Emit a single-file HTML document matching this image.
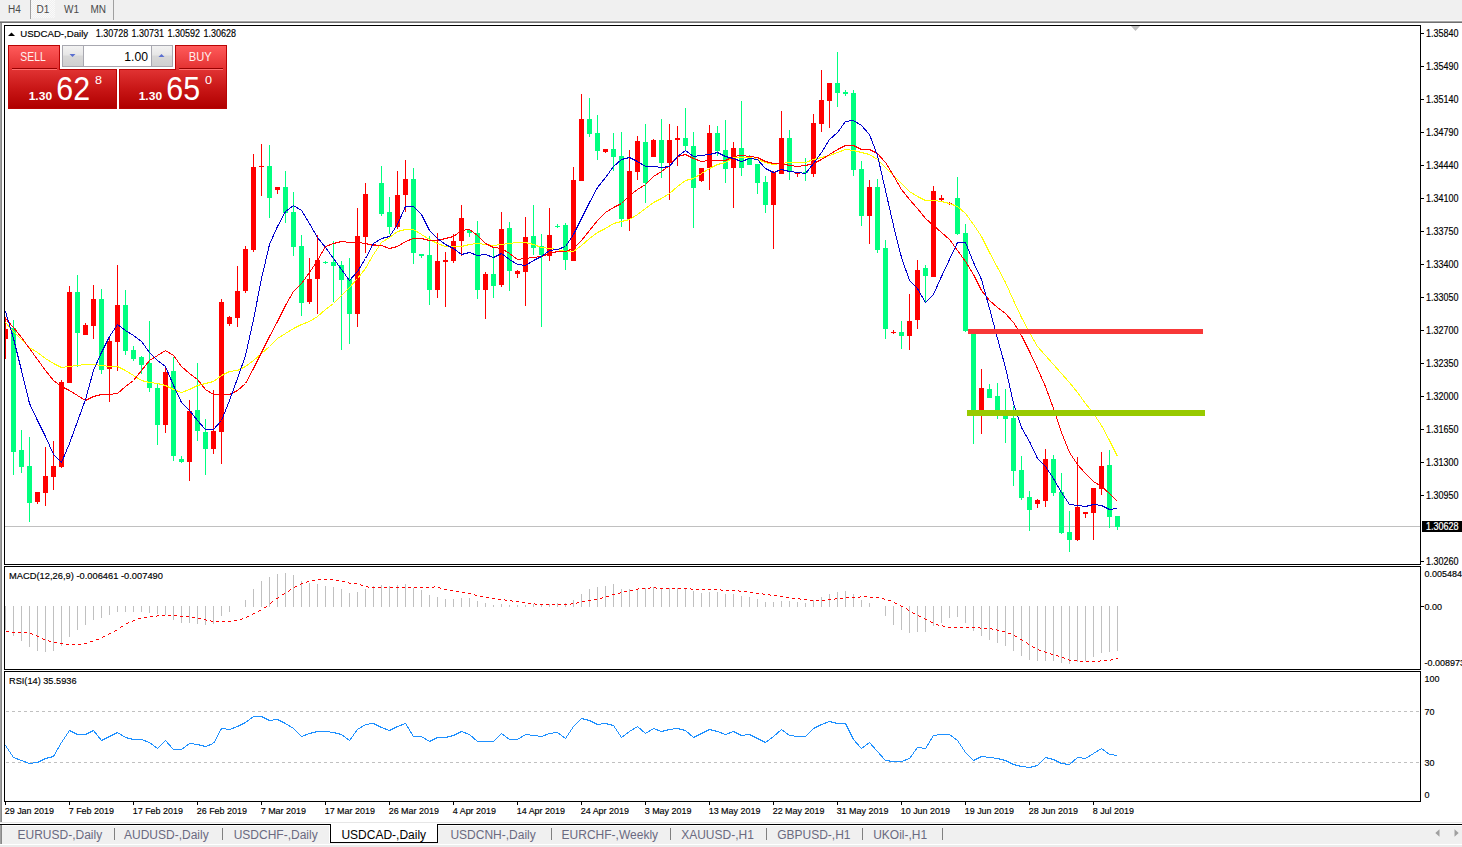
<!DOCTYPE html><html><head><meta charset="utf-8"><title>USDCAD-,Daily</title><style>
html,body{margin:0;padding:0;}body{width:1462px;height:847px;overflow:hidden;background:#f0f0f0;position:relative;font-family:"Liberation Sans",sans-serif;}
svg{position:absolute;left:0;top:0;}text{font-family:"Liberation Sans",sans-serif;}.b{stroke:#000;stroke-width:0.16px;}
</style></head><body>
<svg width="1462" height="847" viewBox="0 0 1462 847">
<defs><linearGradient id="rg" x1="0" y1="0" x2="0" y2="1"><stop offset="0" stop-color="#ff5a5a"/><stop offset="0.35" stop-color="#e52a2a"/><stop offset="1" stop-color="#b00000"/></linearGradient><linearGradient id="rg2" x1="0" y1="0" x2="0" y2="1"><stop offset="0" stop-color="#d82020"/><stop offset="1" stop-color="#b00000"/></linearGradient><linearGradient id="gb" x1="0" y1="0" x2="0" y2="1"><stop offset="0" stop-color="#f2f2f2"/><stop offset="0.45" stop-color="#e6e6e6"/><stop offset="0.5" stop-color="#d8d8d8"/><stop offset="1" stop-color="#d0d0d0"/></linearGradient><linearGradient id="rtop" x1="0" y1="0" x2="0" y2="1"><stop offset="0" stop-color="#ff5a5a"/><stop offset="1" stop-color="#e23030"/></linearGradient><linearGradient id="rbot" x1="0" y1="0" x2="0" y2="1"><stop offset="0" stop-color="#e03232"/><stop offset="0.5" stop-color="#c81616"/><stop offset="1" stop-color="#b00000"/></linearGradient><pattern id="dots" width="2" height="2" patternUnits="userSpaceOnUse"><rect width="2" height="2" fill="#f0f0f0"/><rect width="1" height="1" fill="#fafafa"/><rect x="1" y="1" width="1" height="1" fill="#fafafa"/></pattern></defs>
<g shape-rendering="crispEdges">
<rect x="0" y="0" width="1462" height="21" fill="#f0f0f0"/>
<rect x="31" y="0" width="24" height="18" fill="url(#dots)"/>
<rect x="30" y="0" width="1" height="19" fill="#a0a0a0"/>
<rect x="113" y="0" width="1" height="21" fill="#a0a0a0"/>
<rect x="0" y="20" width="1462" height="1" fill="#f8f8f8"/>
<rect x="0" y="21" width="1462" height="1" fill="#a4a4a4"/>
<rect x="0" y="22" width="1462" height="1" fill="#707070"/>
</g>
<text x="8" y="13" font-size="10" fill="#4a4a4a">H4</text>
<text x="36.5" y="13" font-size="10" fill="#4a4a4a">D1</text>
<text x="64" y="13" font-size="10" fill="#4a4a4a">W1</text>
<text x="90.5" y="13" font-size="10" fill="#4a4a4a">MN</text>
<g shape-rendering="crispEdges">
<rect x="0" y="23" width="1462" height="799" fill="#ffffff"/>
<rect x="0" y="23" width="2" height="799" fill="#a0a0a0"/>
<rect x="1" y="23" width="1" height="799" fill="#888888"/>
<rect x="4" y="25" width="1417" height="1" fill="#000"/>
<rect x="4" y="564" width="1417" height="1" fill="#000"/>
<rect x="4" y="25" width="1" height="540" fill="#000"/>
<rect x="1420" y="25" width="1" height="540" fill="#000"/>
<rect x="4" y="566" width="1417" height="1" fill="#000"/>
<rect x="4" y="669" width="1417" height="1" fill="#000"/>
<rect x="4" y="566" width="1" height="104" fill="#000"/>
<rect x="1420" y="566" width="1" height="104" fill="#000"/>
<rect x="4" y="671" width="1417" height="1" fill="#000"/>
<rect x="4" y="801" width="1417" height="1" fill="#000"/>
<rect x="4" y="671" width="1" height="131" fill="#000"/>
<rect x="1420" y="671" width="1" height="131" fill="#000"/>
</g>
<polygon points="1131,26 1140,26 1135.5,31" fill="#c0c0c0"/>
<g shape-rendering="crispEdges">
<rect x="1421" y="33" width="3" height="1" fill="#000"/>
<rect x="1421" y="66" width="3" height="1" fill="#000"/>
<rect x="1421" y="99" width="3" height="1" fill="#000"/>
<rect x="1421" y="132" width="3" height="1" fill="#000"/>
<rect x="1421" y="165" width="3" height="1" fill="#000"/>
<rect x="1421" y="198" width="3" height="1" fill="#000"/>
<rect x="1421" y="231" width="3" height="1" fill="#000"/>
<rect x="1421" y="264" width="3" height="1" fill="#000"/>
<rect x="1421" y="297" width="3" height="1" fill="#000"/>
<rect x="1421" y="330" width="3" height="1" fill="#000"/>
<rect x="1421" y="363" width="3" height="1" fill="#000"/>
<rect x="1421" y="396" width="3" height="1" fill="#000"/>
<rect x="1421" y="429" width="3" height="1" fill="#000"/>
<rect x="1421" y="462" width="3" height="1" fill="#000"/>
<rect x="1421" y="495" width="3" height="1" fill="#000"/>
<rect x="1421" y="561" width="3" height="1" fill="#000"/>
</g>
<text x="1426" y="37" class="b" font-size="10" fill="#000" textLength="32.5" lengthAdjust="spacingAndGlyphs">1.35840</text>
<text x="1426" y="70" class="b" font-size="10" fill="#000" textLength="32.5" lengthAdjust="spacingAndGlyphs">1.35490</text>
<text x="1426" y="103" class="b" font-size="10" fill="#000" textLength="32.5" lengthAdjust="spacingAndGlyphs">1.35140</text>
<text x="1426" y="136" class="b" font-size="10" fill="#000" textLength="32.5" lengthAdjust="spacingAndGlyphs">1.34790</text>
<text x="1426" y="169" class="b" font-size="10" fill="#000" textLength="32.5" lengthAdjust="spacingAndGlyphs">1.34440</text>
<text x="1426" y="202" class="b" font-size="10" fill="#000" textLength="32.5" lengthAdjust="spacingAndGlyphs">1.34100</text>
<text x="1426" y="235" class="b" font-size="10" fill="#000" textLength="32.5" lengthAdjust="spacingAndGlyphs">1.33750</text>
<text x="1426" y="268" class="b" font-size="10" fill="#000" textLength="32.5" lengthAdjust="spacingAndGlyphs">1.33400</text>
<text x="1426" y="301" class="b" font-size="10" fill="#000" textLength="32.5" lengthAdjust="spacingAndGlyphs">1.33050</text>
<text x="1426" y="334" class="b" font-size="10" fill="#000" textLength="32.5" lengthAdjust="spacingAndGlyphs">1.32700</text>
<text x="1426" y="367" class="b" font-size="10" fill="#000" textLength="32.5" lengthAdjust="spacingAndGlyphs">1.32350</text>
<text x="1426" y="400" class="b" font-size="10" fill="#000" textLength="32.5" lengthAdjust="spacingAndGlyphs">1.32000</text>
<text x="1426" y="433" class="b" font-size="10" fill="#000" textLength="32.5" lengthAdjust="spacingAndGlyphs">1.31650</text>
<text x="1426" y="466" class="b" font-size="10" fill="#000" textLength="32.5" lengthAdjust="spacingAndGlyphs">1.31300</text>
<text x="1426" y="499" class="b" font-size="10" fill="#000" textLength="32.5" lengthAdjust="spacingAndGlyphs">1.30950</text>
<text x="1426" y="565" class="b" font-size="10" fill="#000" textLength="32.5" lengthAdjust="spacingAndGlyphs">1.30260</text>
<rect x="5" y="526" width="1415" height="1" fill="#c0c0c0" shape-rendering="crispEdges"/>
<rect x="1422" y="521" width="40" height="11" fill="#000" shape-rendering="crispEdges"/>
<text x="1426" y="530" font-size="10" fill="#fff" style="stroke:#fff;stroke-width:0.22px" textLength="32.5" lengthAdjust="spacingAndGlyphs">1.30628</text>
<g shape-rendering="crispEdges">
<rect x="5" y="802" width="1" height="3" fill="#000"/>
<rect x="69" y="802" width="1" height="3" fill="#000"/>
<rect x="133" y="802" width="1" height="3" fill="#000"/>
<rect x="197" y="802" width="1" height="3" fill="#000"/>
<rect x="261" y="802" width="1" height="3" fill="#000"/>
<rect x="325" y="802" width="1" height="3" fill="#000"/>
<rect x="389" y="802" width="1" height="3" fill="#000"/>
<rect x="453" y="802" width="1" height="3" fill="#000"/>
<rect x="517" y="802" width="1" height="3" fill="#000"/>
<rect x="581" y="802" width="1" height="3" fill="#000"/>
<rect x="645" y="802" width="1" height="3" fill="#000"/>
<rect x="709" y="802" width="1" height="3" fill="#000"/>
<rect x="773" y="802" width="1" height="3" fill="#000"/>
<rect x="837" y="802" width="1" height="3" fill="#000"/>
<rect x="901" y="802" width="1" height="3" fill="#000"/>
<rect x="965" y="802" width="1" height="3" fill="#000"/>
<rect x="1029" y="802" width="1" height="3" fill="#000"/>
<rect x="1093" y="802" width="1" height="3" fill="#000"/>
</g>
<text x="4.7" y="814" class="b" font-size="9.8" fill="#000" textLength="49.3" lengthAdjust="spacingAndGlyphs">29 Jan 2019</text>
<text x="68.7" y="814" class="b" font-size="9.8" fill="#000" textLength="45.3" lengthAdjust="spacingAndGlyphs">7 Feb 2019</text>
<text x="132.7" y="814" class="b" font-size="9.8" fill="#000" textLength="50.3" lengthAdjust="spacingAndGlyphs">17 Feb 2019</text>
<text x="196.7" y="814" class="b" font-size="9.8" fill="#000" textLength="50.3" lengthAdjust="spacingAndGlyphs">26 Feb 2019</text>
<text x="260.7" y="814" class="b" font-size="9.8" fill="#000" textLength="45.3" lengthAdjust="spacingAndGlyphs">7 Mar 2019</text>
<text x="324.7" y="814" class="b" font-size="9.8" fill="#000" textLength="50.2" lengthAdjust="spacingAndGlyphs">17 Mar 2019</text>
<text x="388.7" y="814" class="b" font-size="9.8" fill="#000" textLength="50.2" lengthAdjust="spacingAndGlyphs">26 Mar 2019</text>
<text x="452.7" y="814" class="b" font-size="9.8" fill="#000" textLength="43.3" lengthAdjust="spacingAndGlyphs">4 Apr 2019</text>
<text x="516.7" y="814" class="b" font-size="9.8" fill="#000" textLength="48.3" lengthAdjust="spacingAndGlyphs">14 Apr 2019</text>
<text x="580.7" y="814" class="b" font-size="9.8" fill="#000" textLength="48.3" lengthAdjust="spacingAndGlyphs">24 Apr 2019</text>
<text x="644.7" y="814" class="b" font-size="9.8" fill="#000" textLength="46.8" lengthAdjust="spacingAndGlyphs">3 May 2019</text>
<text x="708.7" y="814" class="b" font-size="9.8" fill="#000" textLength="51.7" lengthAdjust="spacingAndGlyphs">13 May 2019</text>
<text x="772.7" y="814" class="b" font-size="9.8" fill="#000" textLength="51.7" lengthAdjust="spacingAndGlyphs">22 May 2019</text>
<text x="836.7" y="814" class="b" font-size="9.8" fill="#000" textLength="51.7" lengthAdjust="spacingAndGlyphs">31 May 2019</text>
<text x="900.7" y="814" class="b" font-size="9.8" fill="#000" textLength="49.3" lengthAdjust="spacingAndGlyphs">10 Jun 2019</text>
<text x="964.7" y="814" class="b" font-size="9.8" fill="#000" textLength="49.3" lengthAdjust="spacingAndGlyphs">19 Jun 2019</text>
<text x="1028.7" y="814" class="b" font-size="9.8" fill="#000" textLength="49.3" lengthAdjust="spacingAndGlyphs">28 Jun 2019</text>
<text x="1092.7" y="814" class="b" font-size="9.8" fill="#000" textLength="41.3" lengthAdjust="spacingAndGlyphs">8 Jul 2019</text>
<clipPath id="mc"><rect x="5" y="26" width="1415" height="538"/></clipPath>
<g clip-path="url(#mc)">
<g shape-rendering="crispEdges">
<rect x="5" y="317" width="1" height="42" fill="#ff0000"/>
<rect x="3" y="329" width="5" height="10" fill="#ff0000"/>
<rect x="13" y="320" width="1" height="155" fill="#00ff7f"/>
<rect x="11" y="328" width="5" height="124" fill="#00ff7f"/>
<rect x="21" y="430" width="1" height="43" fill="#00ff7f"/>
<rect x="19" y="450" width="5" height="17" fill="#00ff7f"/>
<rect x="29" y="437" width="1" height="85" fill="#00ff7f"/>
<rect x="27" y="466" width="5" height="37" fill="#00ff7f"/>
<rect x="37" y="492" width="1" height="12" fill="#ff0000"/>
<rect x="35" y="492" width="5" height="10" fill="#ff0000"/>
<rect x="45" y="447" width="1" height="59" fill="#ff0000"/>
<rect x="43" y="476" width="5" height="17" fill="#ff0000"/>
<rect x="53" y="441" width="1" height="49" fill="#ff0000"/>
<rect x="51" y="466" width="5" height="11" fill="#ff0000"/>
<rect x="61" y="380" width="1" height="88" fill="#ff0000"/>
<rect x="59" y="382" width="5" height="85" fill="#ff0000"/>
<rect x="69" y="286" width="1" height="97" fill="#ff0000"/>
<rect x="67" y="292" width="5" height="91" fill="#ff0000"/>
<rect x="77" y="275" width="1" height="92" fill="#00ff7f"/>
<rect x="75" y="292" width="5" height="41" fill="#00ff7f"/>
<rect x="85" y="323" width="1" height="12" fill="#ff0000"/>
<rect x="83" y="325" width="5" height="10" fill="#ff0000"/>
<rect x="93" y="285" width="1" height="54" fill="#ff0000"/>
<rect x="91" y="299" width="5" height="27" fill="#ff0000"/>
<rect x="101" y="289" width="1" height="85" fill="#00ff7f"/>
<rect x="99" y="299" width="5" height="71" fill="#00ff7f"/>
<rect x="109" y="338" width="1" height="64" fill="#ff0000"/>
<rect x="107" y="341" width="5" height="28" fill="#ff0000"/>
<rect x="117" y="265" width="1" height="106" fill="#ff0000"/>
<rect x="115" y="305" width="5" height="37" fill="#ff0000"/>
<rect x="125" y="290" width="1" height="65" fill="#00ff7f"/>
<rect x="123" y="305" width="5" height="46" fill="#00ff7f"/>
<rect x="133" y="346" width="1" height="15" fill="#00ff7f"/>
<rect x="131" y="350" width="5" height="9" fill="#00ff7f"/>
<rect x="141" y="356" width="1" height="18" fill="#00ff7f"/>
<rect x="139" y="357" width="5" height="8" fill="#00ff7f"/>
<rect x="149" y="321" width="1" height="71" fill="#00ff7f"/>
<rect x="147" y="363" width="5" height="25" fill="#00ff7f"/>
<rect x="157" y="384" width="1" height="61" fill="#00ff7f"/>
<rect x="155" y="388" width="5" height="37" fill="#00ff7f"/>
<rect x="165" y="366" width="1" height="67" fill="#ff0000"/>
<rect x="163" y="372" width="5" height="53" fill="#ff0000"/>
<rect x="173" y="357" width="1" height="104" fill="#00ff7f"/>
<rect x="171" y="371" width="5" height="85" fill="#00ff7f"/>
<rect x="181" y="456" width="1" height="7" fill="#00ff7f"/>
<rect x="179" y="459" width="5" height="3" fill="#00ff7f"/>
<rect x="189" y="400" width="1" height="81" fill="#ff0000"/>
<rect x="187" y="411" width="5" height="51" fill="#ff0000"/>
<rect x="197" y="363" width="1" height="78" fill="#00ff7f"/>
<rect x="195" y="410" width="5" height="21" fill="#00ff7f"/>
<rect x="205" y="419" width="1" height="56" fill="#00ff7f"/>
<rect x="203" y="432" width="5" height="17" fill="#00ff7f"/>
<rect x="213" y="390" width="1" height="64" fill="#ff0000"/>
<rect x="211" y="431" width="5" height="18" fill="#ff0000"/>
<rect x="221" y="299" width="1" height="165" fill="#ff0000"/>
<rect x="219" y="302" width="5" height="130" fill="#ff0000"/>
<rect x="229" y="316" width="1" height="10" fill="#ff0000"/>
<rect x="227" y="317" width="5" height="7" fill="#ff0000"/>
<rect x="237" y="266" width="1" height="61" fill="#ff0000"/>
<rect x="235" y="291" width="5" height="27" fill="#ff0000"/>
<rect x="245" y="246" width="1" height="47" fill="#ff0000"/>
<rect x="243" y="249" width="5" height="42" fill="#ff0000"/>
<rect x="253" y="154" width="1" height="98" fill="#ff0000"/>
<rect x="251" y="167" width="5" height="83" fill="#ff0000"/>
<rect x="261" y="144" width="1" height="52" fill="#ff0000"/>
<rect x="259" y="166" width="5" height="1" fill="#ff0000"/>
<rect x="269" y="145" width="1" height="73" fill="#00ff7f"/>
<rect x="267" y="166" width="5" height="32" fill="#00ff7f"/>
<rect x="277" y="187" width="1" height="7" fill="#ff0000"/>
<rect x="275" y="187" width="5" height="3" fill="#ff0000"/>
<rect x="285" y="171" width="1" height="52" fill="#00ff7f"/>
<rect x="283" y="187" width="5" height="26" fill="#00ff7f"/>
<rect x="293" y="192" width="1" height="64" fill="#00ff7f"/>
<rect x="291" y="212" width="5" height="35" fill="#00ff7f"/>
<rect x="301" y="235" width="1" height="81" fill="#00ff7f"/>
<rect x="299" y="246" width="5" height="57" fill="#00ff7f"/>
<rect x="309" y="258" width="1" height="46" fill="#ff0000"/>
<rect x="307" y="279" width="5" height="23" fill="#ff0000"/>
<rect x="317" y="235" width="1" height="79" fill="#ff0000"/>
<rect x="315" y="260" width="5" height="19" fill="#ff0000"/>
<rect x="325" y="261" width="1" height="3" fill="#00ff7f"/>
<rect x="323" y="262" width="5" height="1" fill="#00ff7f"/>
<rect x="333" y="241" width="1" height="61" fill="#00ff7f"/>
<rect x="331" y="262" width="5" height="4" fill="#00ff7f"/>
<rect x="341" y="261" width="1" height="89" fill="#00ff7f"/>
<rect x="339" y="265" width="5" height="15" fill="#00ff7f"/>
<rect x="349" y="258" width="1" height="86" fill="#00ff7f"/>
<rect x="347" y="279" width="5" height="35" fill="#00ff7f"/>
<rect x="357" y="208" width="1" height="119" fill="#ff0000"/>
<rect x="355" y="236" width="5" height="78" fill="#ff0000"/>
<rect x="365" y="183" width="1" height="70" fill="#ff0000"/>
<rect x="363" y="194" width="5" height="43" fill="#ff0000"/>
<rect x="373" y="243" width="1" height="3" fill="#ff0000"/>
<rect x="371" y="244" width="5" height="1" fill="#ff0000"/>
<rect x="381" y="166" width="1" height="50" fill="#00ff7f"/>
<rect x="379" y="183" width="5" height="31" fill="#00ff7f"/>
<rect x="389" y="197" width="1" height="37" fill="#00ff7f"/>
<rect x="387" y="212" width="5" height="15" fill="#00ff7f"/>
<rect x="397" y="171" width="1" height="58" fill="#ff0000"/>
<rect x="395" y="195" width="5" height="32" fill="#ff0000"/>
<rect x="405" y="160" width="1" height="52" fill="#ff0000"/>
<rect x="403" y="179" width="5" height="16" fill="#ff0000"/>
<rect x="413" y="168" width="1" height="96" fill="#00ff7f"/>
<rect x="411" y="179" width="5" height="74" fill="#00ff7f"/>
<rect x="421" y="254" width="1" height="4" fill="#00ff7f"/>
<rect x="419" y="254" width="5" height="2" fill="#00ff7f"/>
<rect x="429" y="236" width="1" height="69" fill="#00ff7f"/>
<rect x="427" y="255" width="5" height="35" fill="#00ff7f"/>
<rect x="437" y="233" width="1" height="65" fill="#ff0000"/>
<rect x="435" y="261" width="5" height="29" fill="#ff0000"/>
<rect x="445" y="252" width="1" height="55" fill="#ff0000"/>
<rect x="443" y="260" width="5" height="2" fill="#ff0000"/>
<rect x="453" y="234" width="1" height="29" fill="#ff0000"/>
<rect x="451" y="241" width="5" height="20" fill="#ff0000"/>
<rect x="461" y="205" width="1" height="51" fill="#ff0000"/>
<rect x="459" y="218" width="5" height="23" fill="#ff0000"/>
<rect x="469" y="230" width="1" height="7" fill="#00ff7f"/>
<rect x="467" y="230" width="5" height="3" fill="#00ff7f"/>
<rect x="477" y="221" width="1" height="78" fill="#00ff7f"/>
<rect x="475" y="233" width="5" height="57" fill="#00ff7f"/>
<rect x="485" y="272" width="1" height="47" fill="#ff0000"/>
<rect x="483" y="274" width="5" height="16" fill="#ff0000"/>
<rect x="493" y="248" width="1" height="50" fill="#00ff7f"/>
<rect x="491" y="274" width="5" height="12" fill="#00ff7f"/>
<rect x="501" y="212" width="1" height="75" fill="#ff0000"/>
<rect x="499" y="229" width="5" height="56" fill="#ff0000"/>
<rect x="509" y="222" width="1" height="69" fill="#00ff7f"/>
<rect x="507" y="228" width="5" height="43" fill="#00ff7f"/>
<rect x="517" y="270" width="1" height="8" fill="#ff0000"/>
<rect x="515" y="271" width="5" height="3" fill="#ff0000"/>
<rect x="525" y="217" width="1" height="89" fill="#ff0000"/>
<rect x="523" y="237" width="5" height="35" fill="#ff0000"/>
<rect x="533" y="205" width="1" height="50" fill="#00ff7f"/>
<rect x="531" y="236" width="5" height="12" fill="#00ff7f"/>
<rect x="541" y="234" width="1" height="93" fill="#00ff7f"/>
<rect x="539" y="246" width="5" height="9" fill="#00ff7f"/>
<rect x="549" y="208" width="1" height="53" fill="#ff0000"/>
<rect x="547" y="235" width="5" height="21" fill="#ff0000"/>
<rect x="557" y="224" width="1" height="4" fill="#00ff7f"/>
<rect x="555" y="226" width="5" height="1" fill="#00ff7f"/>
<rect x="565" y="223" width="1" height="47" fill="#00ff7f"/>
<rect x="563" y="225" width="5" height="35" fill="#00ff7f"/>
<rect x="573" y="167" width="1" height="94" fill="#ff0000"/>
<rect x="571" y="180" width="5" height="81" fill="#ff0000"/>
<rect x="581" y="94" width="1" height="87" fill="#ff0000"/>
<rect x="579" y="119" width="5" height="62" fill="#ff0000"/>
<rect x="589" y="98" width="1" height="39" fill="#00ff7f"/>
<rect x="587" y="119" width="5" height="15" fill="#00ff7f"/>
<rect x="597" y="115" width="1" height="45" fill="#00ff7f"/>
<rect x="595" y="133" width="5" height="18" fill="#00ff7f"/>
<rect x="605" y="149" width="1" height="4" fill="#ff0000"/>
<rect x="603" y="149" width="5" height="3" fill="#ff0000"/>
<rect x="613" y="133" width="1" height="38" fill="#00ff7f"/>
<rect x="611" y="149" width="5" height="8" fill="#00ff7f"/>
<rect x="621" y="132" width="1" height="95" fill="#00ff7f"/>
<rect x="619" y="156" width="5" height="63" fill="#00ff7f"/>
<rect x="629" y="150" width="1" height="81" fill="#ff0000"/>
<rect x="627" y="171" width="5" height="48" fill="#ff0000"/>
<rect x="637" y="136" width="1" height="44" fill="#ff0000"/>
<rect x="635" y="141" width="5" height="31" fill="#ff0000"/>
<rect x="645" y="124" width="1" height="79" fill="#00ff7f"/>
<rect x="643" y="142" width="5" height="41" fill="#00ff7f"/>
<rect x="653" y="139" width="1" height="18" fill="#ff0000"/>
<rect x="651" y="140" width="5" height="17" fill="#ff0000"/>
<rect x="661" y="119" width="1" height="59" fill="#00ff7f"/>
<rect x="659" y="140" width="5" height="23" fill="#00ff7f"/>
<rect x="669" y="124" width="1" height="76" fill="#ff0000"/>
<rect x="667" y="140" width="5" height="23" fill="#ff0000"/>
<rect x="677" y="126" width="1" height="40" fill="#ff0000"/>
<rect x="675" y="138" width="5" height="2" fill="#ff0000"/>
<rect x="685" y="108" width="1" height="42" fill="#00ff7f"/>
<rect x="683" y="138" width="5" height="8" fill="#00ff7f"/>
<rect x="693" y="132" width="1" height="96" fill="#00ff7f"/>
<rect x="691" y="146" width="5" height="42" fill="#00ff7f"/>
<rect x="701" y="168" width="1" height="14" fill="#ff0000"/>
<rect x="699" y="168" width="5" height="13" fill="#ff0000"/>
<rect x="709" y="125" width="1" height="65" fill="#ff0000"/>
<rect x="707" y="133" width="5" height="35" fill="#ff0000"/>
<rect x="717" y="126" width="1" height="30" fill="#00ff7f"/>
<rect x="715" y="133" width="5" height="18" fill="#00ff7f"/>
<rect x="725" y="120" width="1" height="63" fill="#00ff7f"/>
<rect x="723" y="150" width="5" height="19" fill="#00ff7f"/>
<rect x="733" y="142" width="1" height="66" fill="#ff0000"/>
<rect x="731" y="148" width="5" height="20" fill="#ff0000"/>
<rect x="741" y="101" width="1" height="75" fill="#00ff7f"/>
<rect x="739" y="148" width="5" height="20" fill="#00ff7f"/>
<rect x="749" y="155" width="1" height="10" fill="#00ff7f"/>
<rect x="747" y="156" width="5" height="9" fill="#00ff7f"/>
<rect x="757" y="164" width="1" height="30" fill="#00ff7f"/>
<rect x="755" y="164" width="5" height="19" fill="#00ff7f"/>
<rect x="765" y="176" width="1" height="37" fill="#00ff7f"/>
<rect x="763" y="182" width="5" height="23" fill="#00ff7f"/>
<rect x="773" y="171" width="1" height="78" fill="#ff0000"/>
<rect x="771" y="172" width="5" height="33" fill="#ff0000"/>
<rect x="781" y="111" width="1" height="63" fill="#ff0000"/>
<rect x="779" y="138" width="5" height="36" fill="#ff0000"/>
<rect x="789" y="130" width="1" height="50" fill="#00ff7f"/>
<rect x="787" y="138" width="5" height="33" fill="#00ff7f"/>
<rect x="797" y="172" width="1" height="5" fill="#ff0000"/>
<rect x="795" y="172" width="5" height="2" fill="#ff0000"/>
<rect x="805" y="158" width="1" height="23" fill="#00ff7f"/>
<rect x="803" y="172" width="5" height="1" fill="#00ff7f"/>
<rect x="813" y="114" width="1" height="63" fill="#ff0000"/>
<rect x="811" y="123" width="5" height="51" fill="#ff0000"/>
<rect x="821" y="70" width="1" height="62" fill="#ff0000"/>
<rect x="819" y="100" width="5" height="24" fill="#ff0000"/>
<rect x="829" y="83" width="1" height="45" fill="#ff0000"/>
<rect x="827" y="83" width="5" height="18" fill="#ff0000"/>
<rect x="837" y="52" width="1" height="55" fill="#00ff7f"/>
<rect x="835" y="83" width="5" height="10" fill="#00ff7f"/>
<rect x="845" y="90" width="1" height="6" fill="#00ff7f"/>
<rect x="843" y="92" width="5" height="2" fill="#00ff7f"/>
<rect x="853" y="90" width="1" height="86" fill="#00ff7f"/>
<rect x="851" y="93" width="5" height="77" fill="#00ff7f"/>
<rect x="861" y="161" width="1" height="65" fill="#00ff7f"/>
<rect x="859" y="169" width="5" height="47" fill="#00ff7f"/>
<rect x="869" y="180" width="1" height="64" fill="#ff0000"/>
<rect x="867" y="187" width="5" height="29" fill="#ff0000"/>
<rect x="877" y="179" width="1" height="74" fill="#00ff7f"/>
<rect x="875" y="187" width="5" height="63" fill="#00ff7f"/>
<rect x="885" y="240" width="1" height="99" fill="#00ff7f"/>
<rect x="883" y="248" width="5" height="81" fill="#00ff7f"/>
<rect x="893" y="330" width="1" height="4" fill="#ff0000"/>
<rect x="891" y="332" width="5" height="1" fill="#ff0000"/>
<rect x="901" y="321" width="1" height="28" fill="#00ff7f"/>
<rect x="899" y="332" width="5" height="4" fill="#00ff7f"/>
<rect x="909" y="294" width="1" height="56" fill="#ff0000"/>
<rect x="907" y="321" width="5" height="15" fill="#ff0000"/>
<rect x="917" y="260" width="1" height="69" fill="#ff0000"/>
<rect x="915" y="270" width="5" height="50" fill="#ff0000"/>
<rect x="925" y="265" width="1" height="37" fill="#00ff7f"/>
<rect x="923" y="268" width="5" height="8" fill="#00ff7f"/>
<rect x="933" y="186" width="1" height="91" fill="#ff0000"/>
<rect x="931" y="191" width="5" height="86" fill="#ff0000"/>
<rect x="941" y="195" width="1" height="6" fill="#ff0000"/>
<rect x="939" y="198" width="5" height="2" fill="#ff0000"/>
<rect x="949" y="202" width="1" height="3" fill="#ff0000"/>
<rect x="947" y="203" width="5" height="1" fill="#ff0000"/>
<rect x="957" y="177" width="1" height="58" fill="#00ff7f"/>
<rect x="955" y="198" width="5" height="36" fill="#00ff7f"/>
<rect x="965" y="224" width="1" height="108" fill="#00ff7f"/>
<rect x="963" y="233" width="5" height="98" fill="#00ff7f"/>
<rect x="973" y="331" width="1" height="113" fill="#00ff7f"/>
<rect x="971" y="331" width="5" height="79" fill="#00ff7f"/>
<rect x="981" y="369" width="1" height="65" fill="#ff0000"/>
<rect x="979" y="388" width="5" height="22" fill="#ff0000"/>
<rect x="989" y="384" width="1" height="14" fill="#00ff7f"/>
<rect x="987" y="389" width="5" height="9" fill="#00ff7f"/>
<rect x="997" y="383" width="1" height="36" fill="#00ff7f"/>
<rect x="995" y="396" width="5" height="14" fill="#00ff7f"/>
<rect x="1005" y="389" width="1" height="54" fill="#00ff7f"/>
<rect x="1003" y="410" width="5" height="9" fill="#00ff7f"/>
<rect x="1013" y="406" width="1" height="80" fill="#00ff7f"/>
<rect x="1011" y="418" width="5" height="53" fill="#00ff7f"/>
<rect x="1021" y="456" width="1" height="44" fill="#00ff7f"/>
<rect x="1019" y="470" width="5" height="28" fill="#00ff7f"/>
<rect x="1029" y="491" width="1" height="40" fill="#00ff7f"/>
<rect x="1027" y="497" width="5" height="13" fill="#00ff7f"/>
<rect x="1037" y="499" width="1" height="9" fill="#ff0000"/>
<rect x="1035" y="500" width="5" height="4" fill="#ff0000"/>
<rect x="1045" y="449" width="1" height="58" fill="#ff0000"/>
<rect x="1043" y="459" width="5" height="42" fill="#ff0000"/>
<rect x="1053" y="455" width="1" height="41" fill="#00ff7f"/>
<rect x="1051" y="459" width="5" height="34" fill="#00ff7f"/>
<rect x="1061" y="473" width="1" height="61" fill="#00ff7f"/>
<rect x="1059" y="492" width="5" height="41" fill="#00ff7f"/>
<rect x="1069" y="511" width="1" height="41" fill="#00ff7f"/>
<rect x="1067" y="532" width="5" height="8" fill="#00ff7f"/>
<rect x="1077" y="457" width="1" height="84" fill="#ff0000"/>
<rect x="1075" y="507" width="5" height="33" fill="#ff0000"/>
<rect x="1085" y="512" width="1" height="6" fill="#ff0000"/>
<rect x="1083" y="512" width="5" height="2" fill="#ff0000"/>
<rect x="1093" y="488" width="1" height="52" fill="#ff0000"/>
<rect x="1091" y="488" width="5" height="25" fill="#ff0000"/>
<rect x="1101" y="452" width="1" height="43" fill="#ff0000"/>
<rect x="1099" y="466" width="5" height="23" fill="#ff0000"/>
<rect x="1109" y="450" width="1" height="78" fill="#00ff7f"/>
<rect x="1107" y="465" width="5" height="52" fill="#00ff7f"/>
<rect x="1117" y="516" width="1" height="14" fill="#00ff7f"/>
<rect x="1115" y="516" width="5" height="11" fill="#00ff7f"/>
</g>
<polyline points="5.5,322.5 13.5,331.5 21.5,339.5 29.5,347.5 37.5,352.5 45.5,358.5 53.5,363.5 61.5,367.5 69.5,366.5 77.5,365.5 85.5,364.5 93.5,364.5 101.5,365.5 109.5,366.5 117.5,366.5 125.5,370.5 133.5,375.5 141.5,380.5 149.5,382.5 157.5,383.5 165.5,385.5 173.5,389.5 181.5,392.5 189.5,389.5 197.5,385.5 205.5,383.5 213.5,381.5 221.5,375.5 229.5,371.5 237.5,370.5 245.5,366.5 253.5,360.5 261.5,353.5 269.5,346.5 277.5,338.5 285.5,333.5 293.5,328.5 301.5,324.5 309.5,321.5 317.5,316.5 325.5,309.5 333.5,303.5 341.5,295.5 349.5,287.5 357.5,278.5 365.5,268.5 373.5,254.5 381.5,242.5 389.5,237.5 397.5,231.5 405.5,229.5 413.5,229.5 421.5,234.5 429.5,239.5 437.5,243.5 445.5,246.5 453.5,246.5 461.5,246.5 469.5,244.5 477.5,243.5 485.5,244.5 493.5,245.5 501.5,244.5 509.5,243.5 517.5,242.5 525.5,242.5 533.5,244.5 541.5,247.5 549.5,248.5 557.5,249.5 565.5,251.5 573.5,251.5 581.5,245.5 589.5,238.5 597.5,232.5 605.5,228.5 613.5,223.5 621.5,221.5 629.5,219.5 637.5,214.5 645.5,208.5 653.5,202.5 661.5,198.5 669.5,193.5 677.5,186.5 685.5,180.5 693.5,178.5 701.5,173.5 709.5,168.5 717.5,164.5 725.5,162.5 733.5,157.5 741.5,157.5 749.5,157.5 757.5,159.5 765.5,162.5 773.5,164.5 781.5,163.5 789.5,162.5 797.5,162.5 805.5,162.5 813.5,159.5 821.5,157.5 829.5,155.5 837.5,152.5 845.5,149.5 853.5,150.5 861.5,152.5 869.5,154.5 877.5,159.5 885.5,167.5 893.5,175.5 901.5,183.5 909.5,191.5 917.5,196.5 925.5,200.5 933.5,200.5 941.5,201.5 949.5,203.5 957.5,206.5 965.5,213.5 973.5,224.5 981.5,236.5 989.5,252.5 997.5,267.5 1005.5,282.5 1013.5,300.5 1021.5,317.5 1029.5,332.5 1037.5,346.5 1045.5,355.5 1053.5,364.5 1061.5,373.5 1069.5,382.5 1077.5,392.5 1085.5,403.5 1093.5,413.5 1101.5,425.5 1109.5,440.5 1117.5,456.5" fill="none" stroke="#ffff00" stroke-width="1" shape-rendering="crispEdges"/>
<polyline points="5.5,318.5 13.5,327.5 21.5,337.5 29.5,348.5 37.5,359.5 45.5,370.5 53.5,380.5 61.5,386.5 69.5,390.5 77.5,395.5 85.5,400.5 93.5,396.5 101.5,394.5 109.5,394.5 117.5,393.5 125.5,386.5 133.5,380.5 141.5,370.5 149.5,360.5 157.5,355.5 165.5,350.5 173.5,355.5 181.5,366.5 189.5,373.5 197.5,379.5 205.5,389.5 213.5,394.5 221.5,394.5 229.5,394.5 237.5,390.5 245.5,383.5 253.5,368.5 261.5,352.5 269.5,336.5 277.5,321.5 285.5,305.5 293.5,291.5 301.5,283.5 309.5,272.5 317.5,260.5 325.5,246.5 333.5,243.5 341.5,241.5 349.5,242.5 357.5,242.5 365.5,243.5 373.5,245.5 381.5,245.5 389.5,248.5 397.5,246.5 405.5,241.5 413.5,238.5 421.5,238.5 429.5,240.5 437.5,240.5 445.5,238.5 453.5,236.5 461.5,230.5 469.5,229.5 477.5,235.5 485.5,243.5 493.5,247.5 501.5,248.5 509.5,253.5 517.5,259.5 525.5,258.5 533.5,257.5 541.5,256.5 549.5,253.5 557.5,251.5 565.5,251.5 573.5,248.5 581.5,240.5 589.5,230.5 597.5,220.5 605.5,212.5 613.5,207.5 621.5,203.5 629.5,195.5 637.5,189.5 645.5,184.5 653.5,176.5 661.5,171.5 669.5,165.5 677.5,156.5 685.5,154.5 693.5,158.5 701.5,161.5 709.5,160.5 717.5,160.5 725.5,160.5 733.5,156.5 741.5,155.5 749.5,156.5 757.5,157.5 765.5,161.5 773.5,163.5 781.5,163.5 789.5,165.5 797.5,166.5 805.5,165.5 813.5,163.5 821.5,159.5 829.5,154.5 837.5,149.5 845.5,145.5 853.5,145.5 861.5,149.5 869.5,149.5 877.5,153.5 885.5,162.5 893.5,175.5 901.5,189.5 909.5,199.5 917.5,208.5 925.5,218.5 933.5,225.5 941.5,232.5 949.5,239.5 957.5,250.5 965.5,261.5 973.5,274.5 981.5,290.5 989.5,300.5 997.5,307.5 1005.5,313.5 1013.5,322.5 1021.5,335.5 1029.5,351.5 1037.5,368.5 1045.5,386.5 1053.5,408.5 1061.5,432.5 1069.5,452.5 1077.5,464.5 1085.5,473.5 1093.5,481.5 1101.5,486.5 1109.5,493.5 1117.5,501.5" fill="none" stroke="#ff0000" stroke-width="1" shape-rendering="crispEdges"/>
<polyline points="5.5,311.5 13.5,338.5 21.5,370.5 29.5,403.5 37.5,420.5 45.5,436.5 53.5,454.5 61.5,462.5 69.5,443.5 77.5,421.5 85.5,399.5 93.5,370.5 101.5,352.5 109.5,336.5 117.5,324.5 125.5,330.5 133.5,335.5 141.5,341.5 149.5,352.5 157.5,360.5 165.5,366.5 173.5,385.5 181.5,402.5 189.5,410.5 197.5,420.5 205.5,429.5 213.5,429.5 221.5,420.5 229.5,400.5 237.5,378.5 245.5,355.5 253.5,319.5 261.5,278.5 269.5,244.5 277.5,226.5 285.5,211.5 293.5,205.5 301.5,210.5 309.5,223.5 317.5,237.5 325.5,247.5 333.5,258.5 341.5,269.5 349.5,280.5 357.5,271.5 365.5,258.5 373.5,243.5 381.5,238.5 389.5,236.5 397.5,224.5 405.5,206.5 413.5,206.5 421.5,214.5 429.5,230.5 437.5,238.5 445.5,244.5 453.5,248.5 461.5,254.5 469.5,252.5 477.5,255.5 485.5,254.5 493.5,257.5 501.5,253.5 509.5,259.5 517.5,264.5 525.5,265.5 533.5,260.5 541.5,256.5 549.5,250.5 557.5,249.5 565.5,246.5 573.5,234.5 581.5,218.5 589.5,202.5 597.5,187.5 605.5,177.5 613.5,166.5 621.5,159.5 629.5,157.5 637.5,161.5 645.5,166.5 653.5,166.5 661.5,167.5 669.5,166.5 677.5,156.5 685.5,150.5 693.5,156.5 701.5,155.5 709.5,154.5 717.5,152.5 725.5,156.5 733.5,158.5 741.5,161.5 749.5,158.5 757.5,159.5 765.5,168.5 773.5,172.5 781.5,169.5 789.5,171.5 797.5,172.5 805.5,173.5 813.5,163.5 821.5,152.5 829.5,139.5 837.5,132.5 845.5,121.5 853.5,120.5 861.5,125.5 869.5,134.5 877.5,155.5 885.5,190.5 893.5,225.5 901.5,257.5 909.5,280.5 917.5,288.5 925.5,302.5 933.5,294.5 941.5,276.5 949.5,259.5 957.5,242.5 965.5,242.5 973.5,262.5 981.5,279.5 989.5,308.5 997.5,338.5 1005.5,367.5 1013.5,403.5 1021.5,427.5 1029.5,441.5 1037.5,458.5 1045.5,466.5 1053.5,478.5 1061.5,492.5 1069.5,504.5 1077.5,505.5 1085.5,506.5 1093.5,504.5 1101.5,505.5 1109.5,509.5 1117.5,508.5" fill="none" stroke="#0000cd" stroke-width="1" shape-rendering="crispEdges"/>
<rect x="968" y="329" width="235" height="5" fill="#f83838" shape-rendering="crispEdges"/>
<rect x="967" y="410" width="238" height="6" fill="#98ca00" shape-rendering="crispEdges"/>
</g>
<polygon points="8,36 15,36 11.5,32.5" fill="#000"/>
<text x="20.2" y="36.5" class="b" font-size="9.8" fill="#000" textLength="68" lengthAdjust="spacingAndGlyphs">USDCAD-,Daily</text>
<text x="95.7" y="36.5" class="b" font-size="10" fill="#000" textLength="32.5" lengthAdjust="spacingAndGlyphs">1.30728</text>
<text x="131.5" y="36.5" class="b" font-size="10" fill="#000" textLength="32.5" lengthAdjust="spacingAndGlyphs">1.30731</text>
<text x="167.5" y="36.5" class="b" font-size="10" fill="#000" textLength="32.5" lengthAdjust="spacingAndGlyphs">1.30592</text>
<text x="203.5" y="36.5" class="b" font-size="10" fill="#000" textLength="32.5" lengthAdjust="spacingAndGlyphs">1.30628</text>
<g shape-rendering="crispEdges">
<path d="M8,45 H60 V69 H117 V109 H8 Z" fill="#b80404"/>
<rect x="9" y="46" width="50" height="24" fill="url(#rtop)"/>
<rect x="9" y="70" width="107" height="38" fill="url(#rbot)"/>
<rect x="12" y="68" width="45" height="1" fill="#960000"/>
<rect x="12" y="69" width="45" height="1" fill="#ff6e6e"/>
<path d="M119,69 H175 V45 H227 V109 H119 Z" fill="#b80404"/>
<rect x="176" y="46" width="50" height="24" fill="url(#rtop)"/>
<rect x="120" y="70" width="106" height="38" fill="url(#rbot)"/>
<rect x="179" y="68" width="44" height="1" fill="#960000"/>
<rect x="179" y="69" width="44" height="1" fill="#ff6e6e"/>
<rect x="62" y="45" width="111" height="22" fill="#a8a8b0"/>
<rect x="63" y="46" width="109" height="20" fill="#ffffff"/>
<rect x="63" y="46" width="20" height="20" fill="url(#gb)"/>
<rect x="83" y="46" width="1" height="20" fill="#a8a8b0"/>
<rect x="152" y="46" width="20" height="20" fill="url(#gb)"/>
<rect x="151" y="46" width="1" height="20" fill="#a8a8b0"/>
</g>
<polygon points="69.5,54 75.5,54 72.5,57" fill="#5a6fd0"/>
<polygon points="158.5,57 164.5,57 161.5,54" fill="#5a6fd0"/>
<text x="148" y="60.5" font-size="12.2" fill="#000" text-anchor="end">1.00</text>
<text x="20.3" y="61" font-size="12.4" fill="#fff0f0" textLength="25.4" lengthAdjust="spacingAndGlyphs">SELL</text>
<text x="188.8" y="61" font-size="12.4" fill="#fff0f0" textLength="22.9" lengthAdjust="spacingAndGlyphs">BUY</text>
<text x="28.7" y="100" font-size="11.8" font-weight="bold" fill="#fff" textLength="23.4" lengthAdjust="spacingAndGlyphs">1.30</text>
<text x="56.3" y="100" font-size="33.5" fill="#fff" textLength="33.8" lengthAdjust="spacingAndGlyphs">62</text>
<text x="95.10000000000001" y="83.7" font-size="11.6" fill="#fff" textLength="7" lengthAdjust="spacingAndGlyphs">8</text>
<text x="138.7" y="100" font-size="11.8" font-weight="bold" fill="#fff" textLength="23.4" lengthAdjust="spacingAndGlyphs">1.30</text>
<text x="166.29999999999998" y="100" font-size="33.5" fill="#fff" textLength="33.8" lengthAdjust="spacingAndGlyphs">65</text>
<text x="205.1" y="83.7" font-size="11.6" fill="#fff" textLength="7" lengthAdjust="spacingAndGlyphs">0</text>
<clipPath id="mcd"><rect x="5" y="567" width="1415" height="102"/></clipPath>
<g clip-path="url(#mcd)">
<g shape-rendering="crispEdges">
<rect x="5" y="606" width="1" height="24" fill="#c0c0c0"/>
<rect x="13" y="606" width="1" height="30" fill="#c0c0c0"/>
<rect x="21" y="606" width="1" height="35" fill="#c0c0c0"/>
<rect x="29" y="606" width="1" height="41" fill="#c0c0c0"/>
<rect x="37" y="606" width="1" height="45" fill="#c0c0c0"/>
<rect x="45" y="606" width="1" height="46" fill="#c0c0c0"/>
<rect x="53" y="606" width="1" height="45" fill="#c0c0c0"/>
<rect x="61" y="606" width="1" height="40" fill="#c0c0c0"/>
<rect x="69" y="606" width="1" height="31" fill="#c0c0c0"/>
<rect x="77" y="606" width="1" height="24" fill="#c0c0c0"/>
<rect x="85" y="606" width="1" height="19" fill="#c0c0c0"/>
<rect x="93" y="606" width="1" height="14" fill="#c0c0c0"/>
<rect x="101" y="606" width="1" height="12" fill="#c0c0c0"/>
<rect x="109" y="606" width="1" height="9" fill="#c0c0c0"/>
<rect x="117" y="606" width="1" height="6" fill="#c0c0c0"/>
<rect x="125" y="606" width="1" height="6" fill="#c0c0c0"/>
<rect x="133" y="606" width="1" height="6" fill="#c0c0c0"/>
<rect x="141" y="606" width="1" height="6" fill="#c0c0c0"/>
<rect x="149" y="606" width="1" height="7" fill="#c0c0c0"/>
<rect x="157" y="606" width="1" height="8" fill="#c0c0c0"/>
<rect x="165" y="606" width="1" height="9" fill="#c0c0c0"/>
<rect x="173" y="606" width="1" height="14" fill="#c0c0c0"/>
<rect x="181" y="606" width="1" height="17" fill="#c0c0c0"/>
<rect x="189" y="606" width="1" height="17" fill="#c0c0c0"/>
<rect x="197" y="606" width="1" height="18" fill="#c0c0c0"/>
<rect x="205" y="606" width="1" height="19" fill="#c0c0c0"/>
<rect x="213" y="606" width="1" height="18" fill="#c0c0c0"/>
<rect x="221" y="606" width="1" height="10" fill="#c0c0c0"/>
<rect x="229" y="606" width="1" height="6" fill="#c0c0c0"/>
<rect x="245" y="600" width="1" height="7" fill="#c0c0c0"/>
<rect x="253" y="589" width="1" height="18" fill="#c0c0c0"/>
<rect x="261" y="581" width="1" height="26" fill="#c0c0c0"/>
<rect x="269" y="577" width="1" height="30" fill="#c0c0c0"/>
<rect x="277" y="574" width="1" height="33" fill="#c0c0c0"/>
<rect x="285" y="573" width="1" height="34" fill="#c0c0c0"/>
<rect x="293" y="575" width="1" height="32" fill="#c0c0c0"/>
<rect x="301" y="581" width="1" height="26" fill="#c0c0c0"/>
<rect x="309" y="583" width="1" height="24" fill="#c0c0c0"/>
<rect x="317" y="584" width="1" height="23" fill="#c0c0c0"/>
<rect x="325" y="586" width="1" height="21" fill="#c0c0c0"/>
<rect x="333" y="587" width="1" height="20" fill="#c0c0c0"/>
<rect x="341" y="589" width="1" height="18" fill="#c0c0c0"/>
<rect x="349" y="593" width="1" height="14" fill="#c0c0c0"/>
<rect x="357" y="592" width="1" height="15" fill="#c0c0c0"/>
<rect x="365" y="589" width="1" height="18" fill="#c0c0c0"/>
<rect x="373" y="586" width="1" height="21" fill="#c0c0c0"/>
<rect x="381" y="585" width="1" height="22" fill="#c0c0c0"/>
<rect x="389" y="586" width="1" height="21" fill="#c0c0c0"/>
<rect x="397" y="585" width="1" height="22" fill="#c0c0c0"/>
<rect x="405" y="584" width="1" height="23" fill="#c0c0c0"/>
<rect x="413" y="588" width="1" height="19" fill="#c0c0c0"/>
<rect x="421" y="590" width="1" height="17" fill="#c0c0c0"/>
<rect x="429" y="595" width="1" height="12" fill="#c0c0c0"/>
<rect x="437" y="597" width="1" height="10" fill="#c0c0c0"/>
<rect x="445" y="599" width="1" height="8" fill="#c0c0c0"/>
<rect x="453" y="599" width="1" height="8" fill="#c0c0c0"/>
<rect x="461" y="598" width="1" height="9" fill="#c0c0c0"/>
<rect x="469" y="598" width="1" height="9" fill="#c0c0c0"/>
<rect x="477" y="601" width="1" height="6" fill="#c0c0c0"/>
<rect x="485" y="603" width="1" height="4" fill="#c0c0c0"/>
<rect x="493" y="605" width="1" height="2" fill="#c0c0c0"/>
<rect x="501" y="604" width="1" height="3" fill="#c0c0c0"/>
<rect x="509" y="605" width="1" height="2" fill="#c0c0c0"/>
<rect x="517" y="605" width="1" height="2" fill="#c0c0c0"/>
<rect x="525" y="605" width="1" height="2" fill="#c0c0c0"/>
<rect x="533" y="604" width="1" height="3" fill="#c0c0c0"/>
<rect x="541" y="604" width="1" height="3" fill="#c0c0c0"/>
<rect x="549" y="604" width="1" height="3" fill="#c0c0c0"/>
<rect x="557" y="603" width="1" height="4" fill="#c0c0c0"/>
<rect x="565" y="603" width="1" height="4" fill="#c0c0c0"/>
<rect x="573" y="600" width="1" height="7" fill="#c0c0c0"/>
<rect x="581" y="594" width="1" height="13" fill="#c0c0c0"/>
<rect x="589" y="589" width="1" height="18" fill="#c0c0c0"/>
<rect x="597" y="587" width="1" height="20" fill="#c0c0c0"/>
<rect x="605" y="586" width="1" height="21" fill="#c0c0c0"/>
<rect x="613" y="584" width="1" height="23" fill="#c0c0c0"/>
<rect x="621" y="589" width="1" height="18" fill="#c0c0c0"/>
<rect x="629" y="589" width="1" height="18" fill="#c0c0c0"/>
<rect x="637" y="590" width="1" height="17" fill="#c0c0c0"/>
<rect x="645" y="588" width="1" height="19" fill="#c0c0c0"/>
<rect x="653" y="587" width="1" height="20" fill="#c0c0c0"/>
<rect x="661" y="589" width="1" height="18" fill="#c0c0c0"/>
<rect x="669" y="588" width="1" height="19" fill="#c0c0c0"/>
<rect x="677" y="588" width="1" height="19" fill="#c0c0c0"/>
<rect x="685" y="588" width="1" height="19" fill="#c0c0c0"/>
<rect x="693" y="591" width="1" height="16" fill="#c0c0c0"/>
<rect x="701" y="593" width="1" height="14" fill="#c0c0c0"/>
<rect x="709" y="592" width="1" height="15" fill="#c0c0c0"/>
<rect x="717" y="592" width="1" height="15" fill="#c0c0c0"/>
<rect x="725" y="594" width="1" height="13" fill="#c0c0c0"/>
<rect x="733" y="594" width="1" height="13" fill="#c0c0c0"/>
<rect x="741" y="596" width="1" height="11" fill="#c0c0c0"/>
<rect x="749" y="597" width="1" height="10" fill="#c0c0c0"/>
<rect x="757" y="599" width="1" height="8" fill="#c0c0c0"/>
<rect x="765" y="602" width="1" height="5" fill="#c0c0c0"/>
<rect x="773" y="602" width="1" height="5" fill="#c0c0c0"/>
<rect x="781" y="601" width="1" height="6" fill="#c0c0c0"/>
<rect x="789" y="601" width="1" height="6" fill="#c0c0c0"/>
<rect x="797" y="602" width="1" height="5" fill="#c0c0c0"/>
<rect x="805" y="603" width="1" height="4" fill="#c0c0c0"/>
<rect x="813" y="600" width="1" height="7" fill="#c0c0c0"/>
<rect x="821" y="597" width="1" height="10" fill="#c0c0c0"/>
<rect x="829" y="594" width="1" height="13" fill="#c0c0c0"/>
<rect x="837" y="592" width="1" height="15" fill="#c0c0c0"/>
<rect x="845" y="591" width="1" height="16" fill="#c0c0c0"/>
<rect x="853" y="594" width="1" height="13" fill="#c0c0c0"/>
<rect x="861" y="600" width="1" height="7" fill="#c0c0c0"/>
<rect x="869" y="603" width="1" height="4" fill="#c0c0c0"/>
<rect x="885" y="606" width="1" height="10" fill="#c0c0c0"/>
<rect x="893" y="606" width="1" height="19" fill="#c0c0c0"/>
<rect x="901" y="606" width="1" height="24" fill="#c0c0c0"/>
<rect x="909" y="606" width="1" height="27" fill="#c0c0c0"/>
<rect x="917" y="606" width="1" height="26" fill="#c0c0c0"/>
<rect x="925" y="606" width="1" height="26" fill="#c0c0c0"/>
<rect x="933" y="606" width="1" height="20" fill="#c0c0c0"/>
<rect x="941" y="606" width="1" height="17" fill="#c0c0c0"/>
<rect x="949" y="606" width="1" height="12" fill="#c0c0c0"/>
<rect x="957" y="606" width="1" height="11" fill="#c0c0c0"/>
<rect x="965" y="606" width="1" height="17" fill="#c0c0c0"/>
<rect x="973" y="606" width="1" height="25" fill="#c0c0c0"/>
<rect x="981" y="606" width="1" height="30" fill="#c0c0c0"/>
<rect x="989" y="606" width="1" height="34" fill="#c0c0c0"/>
<rect x="997" y="606" width="1" height="37" fill="#c0c0c0"/>
<rect x="1005" y="606" width="1" height="40" fill="#c0c0c0"/>
<rect x="1013" y="606" width="1" height="45" fill="#c0c0c0"/>
<rect x="1021" y="606" width="1" height="50" fill="#c0c0c0"/>
<rect x="1029" y="606" width="1" height="54" fill="#c0c0c0"/>
<rect x="1037" y="606" width="1" height="55" fill="#c0c0c0"/>
<rect x="1045" y="606" width="1" height="55" fill="#c0c0c0"/>
<rect x="1053" y="606" width="1" height="55" fill="#c0c0c0"/>
<rect x="1061" y="606" width="1" height="57" fill="#c0c0c0"/>
<rect x="1069" y="606" width="1" height="58" fill="#c0c0c0"/>
<rect x="1077" y="606" width="1" height="56" fill="#c0c0c0"/>
<rect x="1085" y="606" width="1" height="55" fill="#c0c0c0"/>
<rect x="1093" y="606" width="1" height="51" fill="#c0c0c0"/>
<rect x="1101" y="606" width="1" height="47" fill="#c0c0c0"/>
<rect x="1109" y="606" width="1" height="46" fill="#c0c0c0"/>
<rect x="1117" y="606" width="1" height="45" fill="#c0c0c0"/>
</g>
<g shape-rendering="crispEdges" fill="#ff0000">
<rect x="6" y="631" width="1" height="1"/>
<rect x="7" y="631" width="1" height="1"/>
<rect x="8" y="631" width="1" height="1"/>
<rect x="12" y="632" width="1" height="1"/>
<rect x="13" y="632" width="1" height="1"/>
<rect x="14" y="632" width="1" height="1"/>
<rect x="18" y="632" width="1" height="1"/>
<rect x="19" y="632" width="1" height="1"/>
<rect x="20" y="632" width="1" height="1"/>
<rect x="24" y="632" width="1" height="1"/>
<rect x="25" y="632" width="1" height="1"/>
<rect x="26" y="632" width="1" height="1"/>
<rect x="30" y="633" width="1" height="1"/>
<rect x="31" y="633" width="1" height="1"/>
<rect x="32" y="634" width="1" height="1"/>
<rect x="36" y="635" width="1" height="1"/>
<rect x="37" y="636" width="1" height="1"/>
<rect x="38" y="636" width="1" height="1"/>
<rect x="42" y="638" width="1" height="1"/>
<rect x="43" y="639" width="1" height="1"/>
<rect x="44" y="639" width="1" height="1"/>
<rect x="48" y="640" width="1" height="1"/>
<rect x="49" y="641" width="1" height="1"/>
<rect x="50" y="641" width="1" height="1"/>
<rect x="54" y="642" width="1" height="1"/>
<rect x="55" y="642" width="1" height="1"/>
<rect x="56" y="642" width="1" height="1"/>
<rect x="60" y="643" width="1" height="1"/>
<rect x="61" y="643" width="1" height="1"/>
<rect x="62" y="643" width="1" height="1"/>
<rect x="66" y="644" width="1" height="1"/>
<rect x="67" y="644" width="1" height="1"/>
<rect x="68" y="644" width="1" height="1"/>
<rect x="72" y="644" width="1" height="1"/>
<rect x="73" y="644" width="1" height="1"/>
<rect x="74" y="644" width="1" height="1"/>
<rect x="78" y="644" width="1" height="1"/>
<rect x="79" y="644" width="1" height="1"/>
<rect x="80" y="644" width="1" height="1"/>
<rect x="84" y="643" width="1" height="1"/>
<rect x="85" y="643" width="1" height="1"/>
<rect x="86" y="643" width="1" height="1"/>
<rect x="90" y="641" width="1" height="1"/>
<rect x="91" y="641" width="1" height="1"/>
<rect x="92" y="641" width="1" height="1"/>
<rect x="96" y="639" width="1" height="1"/>
<rect x="97" y="639" width="1" height="1"/>
<rect x="98" y="639" width="1" height="1"/>
<rect x="102" y="637" width="1" height="1"/>
<rect x="103" y="636" width="1" height="1"/>
<rect x="104" y="636" width="1" height="1"/>
<rect x="108" y="634" width="1" height="1"/>
<rect x="109" y="633" width="1" height="1"/>
<rect x="110" y="633" width="1" height="1"/>
<rect x="114" y="631" width="1" height="1"/>
<rect x="115" y="630" width="1" height="1"/>
<rect x="116" y="630" width="1" height="1"/>
<rect x="120" y="627" width="1" height="1"/>
<rect x="121" y="626" width="1" height="1"/>
<rect x="122" y="626" width="1" height="1"/>
<rect x="126" y="623" width="1" height="1"/>
<rect x="127" y="623" width="1" height="1"/>
<rect x="128" y="622" width="1" height="1"/>
<rect x="132" y="621" width="1" height="1"/>
<rect x="133" y="620" width="1" height="1"/>
<rect x="134" y="620" width="1" height="1"/>
<rect x="138" y="618" width="1" height="1"/>
<rect x="139" y="618" width="1" height="1"/>
<rect x="140" y="618" width="1" height="1"/>
<rect x="144" y="617" width="1" height="1"/>
<rect x="145" y="617" width="1" height="1"/>
<rect x="146" y="617" width="1" height="1"/>
<rect x="150" y="616" width="1" height="1"/>
<rect x="151" y="616" width="1" height="1"/>
<rect x="152" y="616" width="1" height="1"/>
<rect x="156" y="616" width="1" height="1"/>
<rect x="157" y="615" width="1" height="1"/>
<rect x="158" y="615" width="1" height="1"/>
<rect x="162" y="615" width="1" height="1"/>
<rect x="163" y="615" width="1" height="1"/>
<rect x="164" y="615" width="1" height="1"/>
<rect x="168" y="615" width="1" height="1"/>
<rect x="169" y="615" width="1" height="1"/>
<rect x="170" y="615" width="1" height="1"/>
<rect x="174" y="615" width="1" height="1"/>
<rect x="175" y="615" width="1" height="1"/>
<rect x="176" y="615" width="1" height="1"/>
<rect x="180" y="616" width="1" height="1"/>
<rect x="181" y="616" width="1" height="1"/>
<rect x="182" y="616" width="1" height="1"/>
<rect x="186" y="616" width="1" height="1"/>
<rect x="187" y="616" width="1" height="1"/>
<rect x="188" y="616" width="1" height="1"/>
<rect x="192" y="617" width="1" height="1"/>
<rect x="193" y="617" width="1" height="1"/>
<rect x="194" y="617" width="1" height="1"/>
<rect x="198" y="618" width="1" height="1"/>
<rect x="199" y="618" width="1" height="1"/>
<rect x="200" y="618" width="1" height="1"/>
<rect x="204" y="619" width="1" height="1"/>
<rect x="205" y="619" width="1" height="1"/>
<rect x="206" y="620" width="1" height="1"/>
<rect x="210" y="620" width="1" height="1"/>
<rect x="211" y="621" width="1" height="1"/>
<rect x="212" y="621" width="1" height="1"/>
<rect x="216" y="621" width="1" height="1"/>
<rect x="217" y="621" width="1" height="1"/>
<rect x="218" y="621" width="1" height="1"/>
<rect x="222" y="621" width="1" height="1"/>
<rect x="223" y="621" width="1" height="1"/>
<rect x="224" y="621" width="1" height="1"/>
<rect x="228" y="621" width="1" height="1"/>
<rect x="229" y="621" width="1" height="1"/>
<rect x="230" y="621" width="1" height="1"/>
<rect x="234" y="620" width="1" height="1"/>
<rect x="235" y="620" width="1" height="1"/>
<rect x="236" y="620" width="1" height="1"/>
<rect x="240" y="619" width="1" height="1"/>
<rect x="241" y="619" width="1" height="1"/>
<rect x="242" y="618" width="1" height="1"/>
<rect x="246" y="617" width="1" height="1"/>
<rect x="247" y="616" width="1" height="1"/>
<rect x="248" y="616" width="1" height="1"/>
<rect x="252" y="614" width="1" height="1"/>
<rect x="253" y="613" width="1" height="1"/>
<rect x="254" y="613" width="1" height="1"/>
<rect x="258" y="611" width="1" height="1"/>
<rect x="259" y="610" width="1" height="1"/>
<rect x="260" y="610" width="1" height="1"/>
<rect x="264" y="607" width="1" height="1"/>
<rect x="265" y="607" width="1" height="1"/>
<rect x="266" y="606" width="1" height="1"/>
<rect x="270" y="603" width="1" height="1"/>
<rect x="271" y="602" width="1" height="1"/>
<rect x="272" y="601" width="1" height="1"/>
<rect x="276" y="598" width="1" height="1"/>
<rect x="277" y="598" width="1" height="1"/>
<rect x="278" y="597" width="1" height="1"/>
<rect x="282" y="594" width="1" height="1"/>
<rect x="283" y="594" width="1" height="1"/>
<rect x="284" y="593" width="1" height="1"/>
<rect x="288" y="591" width="1" height="1"/>
<rect x="289" y="590" width="1" height="1"/>
<rect x="290" y="589" width="1" height="1"/>
<rect x="294" y="587" width="1" height="1"/>
<rect x="295" y="586" width="1" height="1"/>
<rect x="296" y="586" width="1" height="1"/>
<rect x="300" y="584" width="1" height="1"/>
<rect x="301" y="583" width="1" height="1"/>
<rect x="302" y="583" width="1" height="1"/>
<rect x="306" y="582" width="1" height="1"/>
<rect x="307" y="581" width="1" height="1"/>
<rect x="308" y="581" width="1" height="1"/>
<rect x="312" y="580" width="1" height="1"/>
<rect x="313" y="580" width="1" height="1"/>
<rect x="314" y="580" width="1" height="1"/>
<rect x="318" y="579" width="1" height="1"/>
<rect x="319" y="579" width="1" height="1"/>
<rect x="320" y="579" width="1" height="1"/>
<rect x="324" y="579" width="1" height="1"/>
<rect x="325" y="579" width="1" height="1"/>
<rect x="326" y="579" width="1" height="1"/>
<rect x="330" y="579" width="1" height="1"/>
<rect x="331" y="579" width="1" height="1"/>
<rect x="332" y="579" width="1" height="1"/>
<rect x="336" y="580" width="1" height="1"/>
<rect x="337" y="580" width="1" height="1"/>
<rect x="338" y="580" width="1" height="1"/>
<rect x="342" y="581" width="1" height="1"/>
<rect x="343" y="581" width="1" height="1"/>
<rect x="344" y="581" width="1" height="1"/>
<rect x="348" y="582" width="1" height="1"/>
<rect x="349" y="583" width="1" height="1"/>
<rect x="350" y="583" width="1" height="1"/>
<rect x="354" y="583" width="1" height="1"/>
<rect x="355" y="583" width="1" height="1"/>
<rect x="356" y="583" width="1" height="1"/>
<rect x="360" y="584" width="1" height="1"/>
<rect x="361" y="585" width="1" height="1"/>
<rect x="362" y="585" width="1" height="1"/>
<rect x="366" y="586" width="1" height="1"/>
<rect x="367" y="586" width="1" height="1"/>
<rect x="368" y="587" width="1" height="1"/>
<rect x="372" y="587" width="1" height="1"/>
<rect x="373" y="587" width="1" height="1"/>
<rect x="374" y="587" width="1" height="1"/>
<rect x="378" y="587" width="1" height="1"/>
<rect x="379" y="587" width="1" height="1"/>
<rect x="380" y="587" width="1" height="1"/>
<rect x="384" y="587" width="1" height="1"/>
<rect x="385" y="587" width="1" height="1"/>
<rect x="386" y="587" width="1" height="1"/>
<rect x="390" y="587" width="1" height="1"/>
<rect x="391" y="587" width="1" height="1"/>
<rect x="392" y="587" width="1" height="1"/>
<rect x="396" y="587" width="1" height="1"/>
<rect x="397" y="587" width="1" height="1"/>
<rect x="398" y="587" width="1" height="1"/>
<rect x="402" y="587" width="1" height="1"/>
<rect x="403" y="587" width="1" height="1"/>
<rect x="404" y="587" width="1" height="1"/>
<rect x="408" y="587" width="1" height="1"/>
<rect x="409" y="587" width="1" height="1"/>
<rect x="410" y="587" width="1" height="1"/>
<rect x="414" y="587" width="1" height="1"/>
<rect x="415" y="587" width="1" height="1"/>
<rect x="416" y="587" width="1" height="1"/>
<rect x="420" y="587" width="1" height="1"/>
<rect x="421" y="587" width="1" height="1"/>
<rect x="422" y="587" width="1" height="1"/>
<rect x="426" y="587" width="1" height="1"/>
<rect x="427" y="587" width="1" height="1"/>
<rect x="428" y="587" width="1" height="1"/>
<rect x="432" y="587" width="1" height="1"/>
<rect x="433" y="587" width="1" height="1"/>
<rect x="434" y="586" width="1" height="1"/>
<rect x="438" y="587" width="1" height="1"/>
<rect x="439" y="587" width="1" height="1"/>
<rect x="440" y="588" width="1" height="1"/>
<rect x="444" y="589" width="1" height="1"/>
<rect x="445" y="589" width="1" height="1"/>
<rect x="446" y="589" width="1" height="1"/>
<rect x="450" y="590" width="1" height="1"/>
<rect x="451" y="590" width="1" height="1"/>
<rect x="452" y="590" width="1" height="1"/>
<rect x="456" y="591" width="1" height="1"/>
<rect x="457" y="591" width="1" height="1"/>
<rect x="458" y="591" width="1" height="1"/>
<rect x="462" y="592" width="1" height="1"/>
<rect x="463" y="592" width="1" height="1"/>
<rect x="464" y="592" width="1" height="1"/>
<rect x="468" y="593" width="1" height="1"/>
<rect x="469" y="593" width="1" height="1"/>
<rect x="470" y="593" width="1" height="1"/>
<rect x="474" y="594" width="1" height="1"/>
<rect x="475" y="595" width="1" height="1"/>
<rect x="476" y="595" width="1" height="1"/>
<rect x="480" y="596" width="1" height="1"/>
<rect x="481" y="596" width="1" height="1"/>
<rect x="482" y="596" width="1" height="1"/>
<rect x="486" y="597" width="1" height="1"/>
<rect x="487" y="597" width="1" height="1"/>
<rect x="488" y="597" width="1" height="1"/>
<rect x="492" y="598" width="1" height="1"/>
<rect x="493" y="598" width="1" height="1"/>
<rect x="494" y="598" width="1" height="1"/>
<rect x="498" y="599" width="1" height="1"/>
<rect x="499" y="599" width="1" height="1"/>
<rect x="500" y="599" width="1" height="1"/>
<rect x="504" y="599" width="1" height="1"/>
<rect x="505" y="600" width="1" height="1"/>
<rect x="506" y="600" width="1" height="1"/>
<rect x="510" y="600" width="1" height="1"/>
<rect x="511" y="600" width="1" height="1"/>
<rect x="512" y="601" width="1" height="1"/>
<rect x="516" y="601" width="1" height="1"/>
<rect x="517" y="601" width="1" height="1"/>
<rect x="518" y="601" width="1" height="1"/>
<rect x="522" y="602" width="1" height="1"/>
<rect x="523" y="602" width="1" height="1"/>
<rect x="524" y="602" width="1" height="1"/>
<rect x="528" y="603" width="1" height="1"/>
<rect x="529" y="603" width="1" height="1"/>
<rect x="530" y="603" width="1" height="1"/>
<rect x="534" y="603" width="1" height="1"/>
<rect x="535" y="604" width="1" height="1"/>
<rect x="536" y="604" width="1" height="1"/>
<rect x="540" y="604" width="1" height="1"/>
<rect x="541" y="604" width="1" height="1"/>
<rect x="542" y="604" width="1" height="1"/>
<rect x="546" y="604" width="1" height="1"/>
<rect x="547" y="604" width="1" height="1"/>
<rect x="548" y="604" width="1" height="1"/>
<rect x="552" y="604" width="1" height="1"/>
<rect x="553" y="604" width="1" height="1"/>
<rect x="554" y="604" width="1" height="1"/>
<rect x="558" y="604" width="1" height="1"/>
<rect x="559" y="604" width="1" height="1"/>
<rect x="560" y="604" width="1" height="1"/>
<rect x="564" y="604" width="1" height="1"/>
<rect x="565" y="604" width="1" height="1"/>
<rect x="566" y="604" width="1" height="1"/>
<rect x="570" y="604" width="1" height="1"/>
<rect x="571" y="603" width="1" height="1"/>
<rect x="572" y="603" width="1" height="1"/>
<rect x="576" y="603" width="1" height="1"/>
<rect x="577" y="602" width="1" height="1"/>
<rect x="578" y="602" width="1" height="1"/>
<rect x="582" y="601" width="1" height="1"/>
<rect x="583" y="601" width="1" height="1"/>
<rect x="584" y="601" width="1" height="1"/>
<rect x="588" y="600" width="1" height="1"/>
<rect x="589" y="600" width="1" height="1"/>
<rect x="590" y="600" width="1" height="1"/>
<rect x="594" y="599" width="1" height="1"/>
<rect x="595" y="599" width="1" height="1"/>
<rect x="596" y="599" width="1" height="1"/>
<rect x="600" y="598" width="1" height="1"/>
<rect x="601" y="598" width="1" height="1"/>
<rect x="602" y="597" width="1" height="1"/>
<rect x="606" y="596" width="1" height="1"/>
<rect x="607" y="596" width="1" height="1"/>
<rect x="608" y="596" width="1" height="1"/>
<rect x="612" y="594" width="1" height="1"/>
<rect x="613" y="594" width="1" height="1"/>
<rect x="614" y="594" width="1" height="1"/>
<rect x="618" y="593" width="1" height="1"/>
<rect x="619" y="593" width="1" height="1"/>
<rect x="620" y="592" width="1" height="1"/>
<rect x="624" y="591" width="1" height="1"/>
<rect x="625" y="591" width="1" height="1"/>
<rect x="626" y="591" width="1" height="1"/>
<rect x="630" y="590" width="1" height="1"/>
<rect x="631" y="590" width="1" height="1"/>
<rect x="632" y="590" width="1" height="1"/>
<rect x="636" y="589" width="1" height="1"/>
<rect x="637" y="589" width="1" height="1"/>
<rect x="638" y="588" width="1" height="1"/>
<rect x="642" y="588" width="1" height="1"/>
<rect x="643" y="588" width="1" height="1"/>
<rect x="644" y="588" width="1" height="1"/>
<rect x="648" y="588" width="1" height="1"/>
<rect x="649" y="588" width="1" height="1"/>
<rect x="650" y="587" width="1" height="1"/>
<rect x="654" y="587" width="1" height="1"/>
<rect x="655" y="587" width="1" height="1"/>
<rect x="656" y="588" width="1" height="1"/>
<rect x="660" y="588" width="1" height="1"/>
<rect x="661" y="588" width="1" height="1"/>
<rect x="662" y="588" width="1" height="1"/>
<rect x="666" y="588" width="1" height="1"/>
<rect x="667" y="588" width="1" height="1"/>
<rect x="668" y="588" width="1" height="1"/>
<rect x="672" y="588" width="1" height="1"/>
<rect x="673" y="588" width="1" height="1"/>
<rect x="674" y="588" width="1" height="1"/>
<rect x="678" y="588" width="1" height="1"/>
<rect x="679" y="588" width="1" height="1"/>
<rect x="680" y="588" width="1" height="1"/>
<rect x="684" y="588" width="1" height="1"/>
<rect x="685" y="588" width="1" height="1"/>
<rect x="686" y="588" width="1" height="1"/>
<rect x="690" y="588" width="1" height="1"/>
<rect x="691" y="589" width="1" height="1"/>
<rect x="692" y="589" width="1" height="1"/>
<rect x="696" y="589" width="1" height="1"/>
<rect x="697" y="589" width="1" height="1"/>
<rect x="698" y="589" width="1" height="1"/>
<rect x="702" y="589" width="1" height="1"/>
<rect x="703" y="589" width="1" height="1"/>
<rect x="704" y="589" width="1" height="1"/>
<rect x="708" y="589" width="1" height="1"/>
<rect x="709" y="589" width="1" height="1"/>
<rect x="710" y="589" width="1" height="1"/>
<rect x="714" y="589" width="1" height="1"/>
<rect x="715" y="589" width="1" height="1"/>
<rect x="716" y="589" width="1" height="1"/>
<rect x="720" y="589" width="1" height="1"/>
<rect x="721" y="590" width="1" height="1"/>
<rect x="722" y="590" width="1" height="1"/>
<rect x="726" y="590" width="1" height="1"/>
<rect x="727" y="590" width="1" height="1"/>
<rect x="728" y="590" width="1" height="1"/>
<rect x="732" y="590" width="1" height="1"/>
<rect x="733" y="590" width="1" height="1"/>
<rect x="734" y="590" width="1" height="1"/>
<rect x="738" y="590" width="1" height="1"/>
<rect x="739" y="591" width="1" height="1"/>
<rect x="740" y="591" width="1" height="1"/>
<rect x="744" y="591" width="1" height="1"/>
<rect x="745" y="591" width="1" height="1"/>
<rect x="746" y="591" width="1" height="1"/>
<rect x="750" y="592" width="1" height="1"/>
<rect x="751" y="592" width="1" height="1"/>
<rect x="752" y="592" width="1" height="1"/>
<rect x="756" y="593" width="1" height="1"/>
<rect x="757" y="593" width="1" height="1"/>
<rect x="758" y="593" width="1" height="1"/>
<rect x="762" y="593" width="1" height="1"/>
<rect x="763" y="594" width="1" height="1"/>
<rect x="764" y="594" width="1" height="1"/>
<rect x="768" y="594" width="1" height="1"/>
<rect x="769" y="594" width="1" height="1"/>
<rect x="770" y="595" width="1" height="1"/>
<rect x="774" y="595" width="1" height="1"/>
<rect x="775" y="595" width="1" height="1"/>
<rect x="776" y="595" width="1" height="1"/>
<rect x="780" y="596" width="1" height="1"/>
<rect x="781" y="596" width="1" height="1"/>
<rect x="782" y="596" width="1" height="1"/>
<rect x="786" y="597" width="1" height="1"/>
<rect x="787" y="597" width="1" height="1"/>
<rect x="788" y="597" width="1" height="1"/>
<rect x="792" y="598" width="1" height="1"/>
<rect x="793" y="598" width="1" height="1"/>
<rect x="794" y="598" width="1" height="1"/>
<rect x="798" y="598" width="1" height="1"/>
<rect x="799" y="598" width="1" height="1"/>
<rect x="800" y="599" width="1" height="1"/>
<rect x="804" y="599" width="1" height="1"/>
<rect x="805" y="599" width="1" height="1"/>
<rect x="806" y="599" width="1" height="1"/>
<rect x="810" y="600" width="1" height="1"/>
<rect x="811" y="600" width="1" height="1"/>
<rect x="812" y="600" width="1" height="1"/>
<rect x="816" y="600" width="1" height="1"/>
<rect x="817" y="600" width="1" height="1"/>
<rect x="818" y="600" width="1" height="1"/>
<rect x="822" y="600" width="1" height="1"/>
<rect x="823" y="600" width="1" height="1"/>
<rect x="824" y="600" width="1" height="1"/>
<rect x="828" y="599" width="1" height="1"/>
<rect x="829" y="599" width="1" height="1"/>
<rect x="830" y="599" width="1" height="1"/>
<rect x="834" y="599" width="1" height="1"/>
<rect x="835" y="598" width="1" height="1"/>
<rect x="836" y="598" width="1" height="1"/>
<rect x="840" y="598" width="1" height="1"/>
<rect x="841" y="598" width="1" height="1"/>
<rect x="842" y="598" width="1" height="1"/>
<rect x="846" y="597" width="1" height="1"/>
<rect x="847" y="597" width="1" height="1"/>
<rect x="848" y="597" width="1" height="1"/>
<rect x="852" y="597" width="1" height="1"/>
<rect x="853" y="597" width="1" height="1"/>
<rect x="854" y="597" width="1" height="1"/>
<rect x="858" y="597" width="1" height="1"/>
<rect x="859" y="597" width="1" height="1"/>
<rect x="860" y="596" width="1" height="1"/>
<rect x="864" y="596" width="1" height="1"/>
<rect x="865" y="596" width="1" height="1"/>
<rect x="866" y="596" width="1" height="1"/>
<rect x="870" y="597" width="1" height="1"/>
<rect x="871" y="597" width="1" height="1"/>
<rect x="872" y="597" width="1" height="1"/>
<rect x="876" y="597" width="1" height="1"/>
<rect x="877" y="597" width="1" height="1"/>
<rect x="878" y="597" width="1" height="1"/>
<rect x="882" y="598" width="1" height="1"/>
<rect x="883" y="598" width="1" height="1"/>
<rect x="884" y="599" width="1" height="1"/>
<rect x="888" y="600" width="1" height="1"/>
<rect x="889" y="600" width="1" height="1"/>
<rect x="890" y="600" width="1" height="1"/>
<rect x="894" y="602" width="1" height="1"/>
<rect x="895" y="603" width="1" height="1"/>
<rect x="896" y="603" width="1" height="1"/>
<rect x="900" y="605" width="1" height="1"/>
<rect x="901" y="606" width="1" height="1"/>
<rect x="902" y="606" width="1" height="1"/>
<rect x="906" y="608" width="1" height="1"/>
<rect x="907" y="609" width="1" height="1"/>
<rect x="908" y="610" width="1" height="1"/>
<rect x="912" y="612" width="1" height="1"/>
<rect x="913" y="613" width="1" height="1"/>
<rect x="914" y="613" width="1" height="1"/>
<rect x="918" y="615" width="1" height="1"/>
<rect x="919" y="616" width="1" height="1"/>
<rect x="920" y="616" width="1" height="1"/>
<rect x="924" y="618" width="1" height="1"/>
<rect x="925" y="619" width="1" height="1"/>
<rect x="926" y="619" width="1" height="1"/>
<rect x="930" y="621" width="1" height="1"/>
<rect x="931" y="622" width="1" height="1"/>
<rect x="932" y="622" width="1" height="1"/>
<rect x="936" y="624" width="1" height="1"/>
<rect x="937" y="624" width="1" height="1"/>
<rect x="938" y="625" width="1" height="1"/>
<rect x="942" y="625" width="1" height="1"/>
<rect x="943" y="626" width="1" height="1"/>
<rect x="944" y="626" width="1" height="1"/>
<rect x="948" y="627" width="1" height="1"/>
<rect x="949" y="627" width="1" height="1"/>
<rect x="950" y="627" width="1" height="1"/>
<rect x="954" y="627" width="1" height="1"/>
<rect x="955" y="627" width="1" height="1"/>
<rect x="956" y="627" width="1" height="1"/>
<rect x="960" y="627" width="1" height="1"/>
<rect x="961" y="627" width="1" height="1"/>
<rect x="962" y="627" width="1" height="1"/>
<rect x="966" y="627" width="1" height="1"/>
<rect x="967" y="627" width="1" height="1"/>
<rect x="968" y="627" width="1" height="1"/>
<rect x="972" y="627" width="1" height="1"/>
<rect x="973" y="627" width="1" height="1"/>
<rect x="974" y="627" width="1" height="1"/>
<rect x="978" y="627" width="1" height="1"/>
<rect x="979" y="627" width="1" height="1"/>
<rect x="980" y="628" width="1" height="1"/>
<rect x="984" y="628" width="1" height="1"/>
<rect x="985" y="628" width="1" height="1"/>
<rect x="986" y="628" width="1" height="1"/>
<rect x="990" y="628" width="1" height="1"/>
<rect x="991" y="628" width="1" height="1"/>
<rect x="992" y="629" width="1" height="1"/>
<rect x="996" y="629" width="1" height="1"/>
<rect x="997" y="630" width="1" height="1"/>
<rect x="998" y="630" width="1" height="1"/>
<rect x="1002" y="631" width="1" height="1"/>
<rect x="1003" y="631" width="1" height="1"/>
<rect x="1004" y="631" width="1" height="1"/>
<rect x="1008" y="633" width="1" height="1"/>
<rect x="1009" y="633" width="1" height="1"/>
<rect x="1010" y="633" width="1" height="1"/>
<rect x="1014" y="635" width="1" height="1"/>
<rect x="1015" y="636" width="1" height="1"/>
<rect x="1016" y="636" width="1" height="1"/>
<rect x="1020" y="639" width="1" height="1"/>
<rect x="1021" y="639" width="1" height="1"/>
<rect x="1022" y="640" width="1" height="1"/>
<rect x="1026" y="642" width="1" height="1"/>
<rect x="1027" y="643" width="1" height="1"/>
<rect x="1028" y="644" width="1" height="1"/>
<rect x="1032" y="646" width="1" height="1"/>
<rect x="1033" y="647" width="1" height="1"/>
<rect x="1034" y="647" width="1" height="1"/>
<rect x="1038" y="649" width="1" height="1"/>
<rect x="1039" y="650" width="1" height="1"/>
<rect x="1040" y="650" width="1" height="1"/>
<rect x="1044" y="651" width="1" height="1"/>
<rect x="1045" y="652" width="1" height="1"/>
<rect x="1046" y="652" width="1" height="1"/>
<rect x="1050" y="653" width="1" height="1"/>
<rect x="1051" y="654" width="1" height="1"/>
<rect x="1052" y="654" width="1" height="1"/>
<rect x="1056" y="655" width="1" height="1"/>
<rect x="1057" y="655" width="1" height="1"/>
<rect x="1058" y="656" width="1" height="1"/>
<rect x="1062" y="657" width="1" height="1"/>
<rect x="1063" y="657" width="1" height="1"/>
<rect x="1064" y="658" width="1" height="1"/>
<rect x="1068" y="659" width="1" height="1"/>
<rect x="1069" y="660" width="1" height="1"/>
<rect x="1070" y="660" width="1" height="1"/>
<rect x="1074" y="660" width="1" height="1"/>
<rect x="1075" y="660" width="1" height="1"/>
<rect x="1076" y="660" width="1" height="1"/>
<rect x="1080" y="661" width="1" height="1"/>
<rect x="1081" y="661" width="1" height="1"/>
<rect x="1082" y="661" width="1" height="1"/>
<rect x="1086" y="661" width="1" height="1"/>
<rect x="1087" y="661" width="1" height="1"/>
<rect x="1088" y="661" width="1" height="1"/>
<rect x="1092" y="661" width="1" height="1"/>
<rect x="1093" y="661" width="1" height="1"/>
<rect x="1094" y="661" width="1" height="1"/>
<rect x="1098" y="661" width="1" height="1"/>
<rect x="1099" y="661" width="1" height="1"/>
<rect x="1100" y="660" width="1" height="1"/>
<rect x="1104" y="660" width="1" height="1"/>
<rect x="1105" y="660" width="1" height="1"/>
<rect x="1106" y="660" width="1" height="1"/>
<rect x="1110" y="660" width="1" height="1"/>
<rect x="1111" y="659" width="1" height="1"/>
<rect x="1112" y="659" width="1" height="1"/>
<rect x="1116" y="658" width="1" height="1"/>
<rect x="1117" y="658" width="1" height="1"/>
</g>
</g>
<text x="9" y="579" class="b" font-size="9.8" fill="#000" textLength="154" lengthAdjust="spacingAndGlyphs">MACD(12,26,9) -0.006461 -0.007490</text>
<rect x="1421" y="606" width="3" height="1" fill="#000" shape-rendering="crispEdges"/>
<text x="1424.6" y="577" class="b" font-size="9.8" fill="#000" textLength="37.5" lengthAdjust="spacingAndGlyphs">0.005484</text>
<text x="1424.6" y="610" class="b" font-size="9.8" fill="#000" textLength="17.5" lengthAdjust="spacingAndGlyphs">0.00</text>
<text x="1424.6" y="666.3" class="b" font-size="9.8" fill="#000" textLength="40.5" lengthAdjust="spacingAndGlyphs">-0.008973</text>
<g shape-rendering="crispEdges">
<line x1="5" y1="711.5" x2="1420" y2="711.5" stroke="#c0c0c0" stroke-width="1" stroke-dasharray="3,3" stroke-dashoffset="5"/>
<line x1="5" y1="762.5" x2="1420" y2="762.5" stroke="#c0c0c0" stroke-width="1" stroke-dasharray="3,3" stroke-dashoffset="5"/>
</g>
<polyline points="5.5,745.5 13.5,757.5 21.5,760.5 29.5,763.5 37.5,762.5 45.5,758.5 53.5,756.5 61.5,742.5 69.5,730.5 77.5,734.5 85.5,734.5 93.5,730.5 101.5,740.5 109.5,736.5 117.5,732.5 125.5,737.5 133.5,739.5 141.5,739.5 149.5,742.5 157.5,748.5 165.5,740.5 173.5,749.5 181.5,749.5 189.5,743.5 197.5,744.5 205.5,746.5 213.5,743.5 221.5,728.5 229.5,729.5 237.5,726.5 245.5,722.5 253.5,716.5 261.5,716.5 269.5,720.5 277.5,719.5 285.5,723.5 293.5,728.5 301.5,736.5 309.5,733.5 317.5,731.5 325.5,731.5 333.5,732.5 341.5,734.5 349.5,740.5 357.5,729.5 365.5,724.5 373.5,723.5 381.5,727.5 389.5,730.5 397.5,726.5 405.5,723.5 413.5,736.5 421.5,736.5 429.5,741.5 437.5,737.5 445.5,737.5 453.5,735.5 461.5,731.5 469.5,734.5 477.5,741.5 485.5,741.5 493.5,741.5 501.5,733.5 509.5,739.5 517.5,739.5 525.5,734.5 533.5,735.5 541.5,736.5 549.5,733.5 557.5,732.5 565.5,738.5 573.5,726.5 581.5,718.5 589.5,720.5 597.5,724.5 605.5,723.5 613.5,725.5 621.5,737.5 629.5,731.5 637.5,726.5 645.5,733.5 653.5,728.5 661.5,731.5 669.5,729.5 677.5,728.5 685.5,730.5 693.5,737.5 701.5,733.5 709.5,729.5 717.5,731.5 725.5,734.5 733.5,731.5 741.5,735.5 749.5,734.5 757.5,738.5 765.5,742.5 773.5,736.5 781.5,729.5 789.5,735.5 797.5,736.5 805.5,736.5 813.5,728.5 821.5,724.5 829.5,721.5 837.5,723.5 845.5,723.5 853.5,739.5 861.5,748.5 869.5,742.5 877.5,751.5 885.5,760.5 893.5,761.5 901.5,761.5 909.5,758.5 917.5,747.5 925.5,748.5 933.5,735.5 941.5,734.5 949.5,734.5 957.5,740.5 965.5,752.5 973.5,760.5 981.5,756.5 989.5,757.5 997.5,758.5 1005.5,760.5 1013.5,764.5 1021.5,766.5 1029.5,767.5 1037.5,765.5 1045.5,757.5 1053.5,759.5 1061.5,763.5 1069.5,764.5 1077.5,757.5 1085.5,758.5 1093.5,753.5 1101.5,748.5 1109.5,754.5 1117.5,755.5" fill="none" stroke="#1e90ff" stroke-width="1" shape-rendering="crispEdges"/>
<text x="9" y="684" class="b" font-size="9.8" fill="#000" textLength="67.5" lengthAdjust="spacingAndGlyphs">RSI(14) 35.5936</text>
<text x="1424.5" y="682" class="b" font-size="9.8" fill="#000" textLength="15.0" lengthAdjust="spacingAndGlyphs">100</text>
<text x="1424.5" y="715" class="b" font-size="9.8" fill="#000" textLength="10.0" lengthAdjust="spacingAndGlyphs">70</text>
<text x="1424.5" y="766" class="b" font-size="9.8" fill="#000" textLength="10.0" lengthAdjust="spacingAndGlyphs">30</text>
<text x="1424.5" y="798" class="b" font-size="9.8" fill="#000" textLength="5.0" lengthAdjust="spacingAndGlyphs">0</text>
<g shape-rendering="crispEdges">
<rect x="0" y="822" width="1462" height="1" fill="#e6e6e6"/>
<rect x="0" y="823" width="1462" height="1" fill="#ffffff"/>
<rect x="0" y="824" width="331" height="1" fill="#000000"/>
<rect x="437" y="824" width="1025" height="1" fill="#000000"/>
<rect x="331" y="824" width="106" height="1" fill="#ffffff"/>
<rect x="0" y="825" width="1462" height="1" fill="#ffffff"/>
<rect x="0" y="826" width="1462" height="18" fill="#f0f0f0"/>
<rect x="0" y="844" width="1462" height="1" fill="#ffffff"/>
<rect x="0" y="845" width="1462" height="2" fill="#ececec"/>
<rect x="0" y="825" width="2" height="19" fill="#a0a0a0"/>
<rect x="1" y="825" width="1" height="19" fill="#888888"/>
<rect x="331" y="825" width="106" height="17" fill="#ffffff"/>
<rect x="329" y="825" width="1" height="18" fill="#ffffff"/>
<rect x="330" y="824" width="1" height="19" fill="#000"/>
<rect x="437" y="824" width="1" height="19" fill="#000"/>
<rect x="330" y="842" width="108" height="1" fill="#000"/>
<rect x="114" y="828" width="1" height="12" fill="#808080"/>
<rect x="222" y="828" width="1" height="12" fill="#808080"/>
<rect x="551" y="828" width="1" height="12" fill="#808080"/>
<rect x="670" y="828" width="1" height="12" fill="#808080"/>
<rect x="766" y="828" width="1" height="12" fill="#808080"/>
<rect x="862" y="828" width="1" height="12" fill="#808080"/>
<rect x="942" y="828" width="1" height="12" fill="#808080"/>
</g>
<text x="17.5" y="839" font-size="12" fill="#6a6a80">EURUSD-,Daily</text>
<text x="124" y="839" font-size="12" fill="#6a6a80">AUDUSD-,Daily</text>
<text x="233.7" y="839" font-size="12" fill="#6a6a80">USDCHF-,Daily</text>
<text x="341.4" y="839" font-size="12" fill="#000">USDCAD-,Daily</text>
<text x="450.4" y="839" font-size="12" fill="#6a6a80">USDCNH-,Daily</text>
<text x="561.6" y="839" font-size="12" fill="#6a6a80">EURCHF-,Weekly</text>
<text x="681.2" y="839" font-size="12" fill="#6a6a80">XAUUSD-,H1</text>
<text x="777.2" y="839" font-size="12" fill="#6a6a80">GBPUSD-,H1</text>
<text x="873.2" y="839" font-size="12" fill="#6a6a80">UKOil-,H1</text>
<polygon points="1435.3,833 1439.5,829.3 1439.5,836.7" fill="#a0a0a0"/>
<polygon points="1458.7,833 1454.5,829.3 1454.5,836.7" fill="#a0a0a0"/>
</svg></body></html>
